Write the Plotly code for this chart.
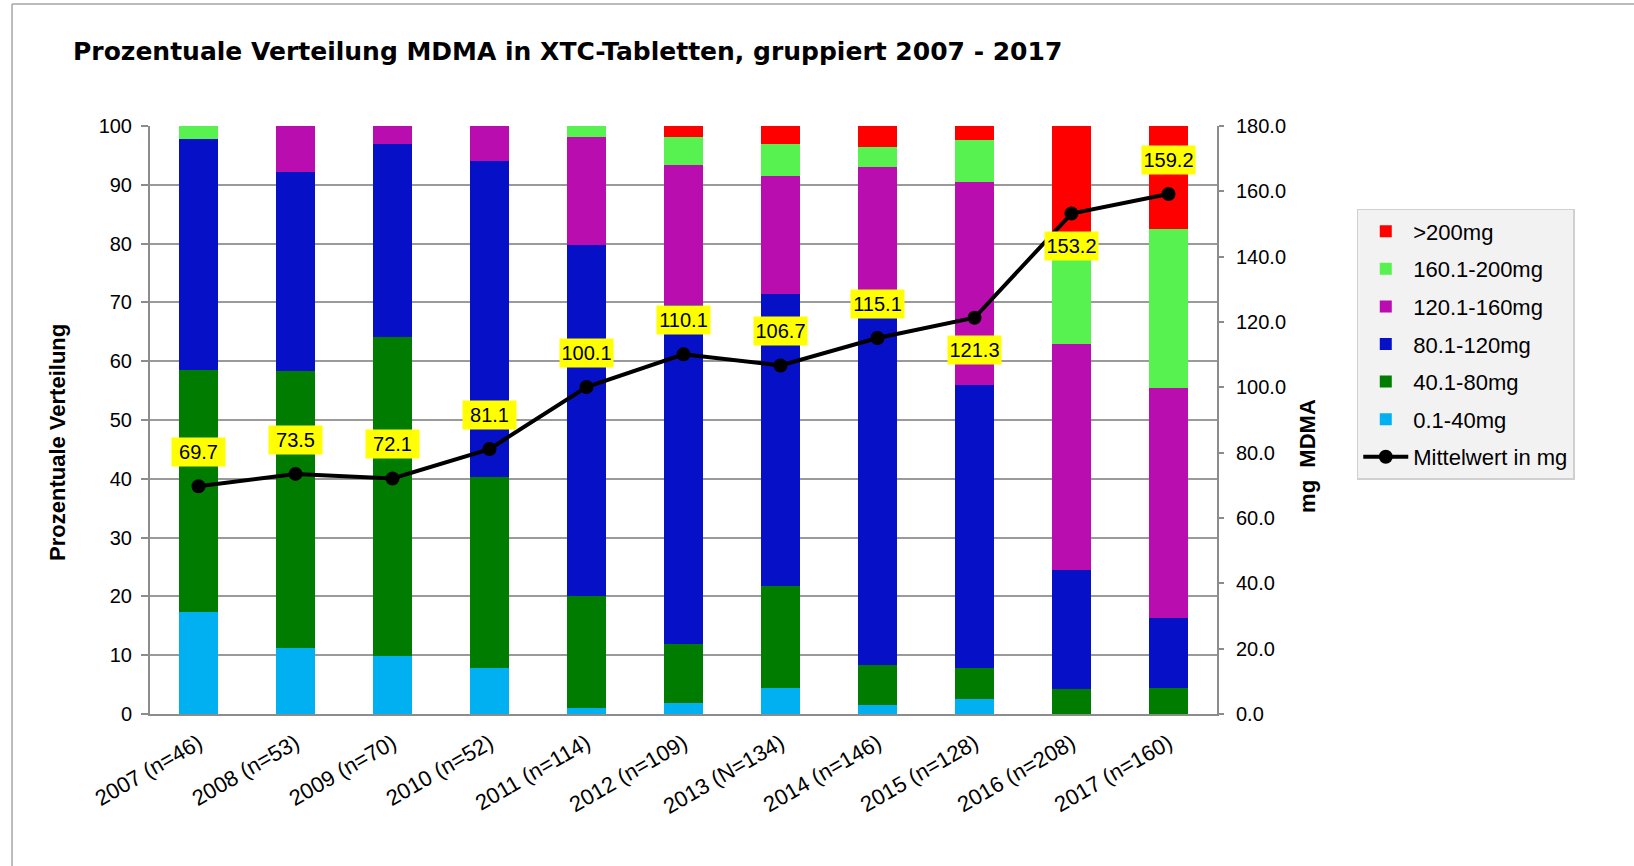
import plotly.graph_objects as go

categories = ["2007 (n=46)", "2008 (n=53)", "2009 (n=70)", "2010 (n=52)", "2011 (n=114)",
              "2012 (n=109)", "2013 (N=134)", "2014 (n=146)", "2015 (n=128)", "2016 (n=208)",
              "2017 (n=160)"]

s_0_40 = [17.4, 11.3, 9.9, 7.9, 1.0, 1.9, 4.5, 1.5, 2.5, 0.0, 0.0]
s_40_80 = [41.1, 47.1, 54.3, 32.4, 19.1, 10.0, 17.2, 6.9, 5.4, 4.3, 4.5]
s_80_120 = [39.3, 33.8, 32.7, 53.8, 59.6, 57.6, 49.8, 62.7, 48.1, 20.2, 11.8]
s_120_160 = [0.0, 7.8, 3.1, 5.9, 18.4, 23.9, 20.0, 22.0, 34.4, 38.4, 39.2]
s_160_200 = [2.2, 0.0, 0.0, 0.0, 1.9, 4.7, 5.4, 3.3, 7.2, 16.1, 26.9]
s_200 = [0.0, 0.0, 0.0, 0.0, 0.0, 1.9, 3.1, 3.6, 2.4, 21.0, 17.6]

mean_mg = [69.7, 73.5, 72.1, 81.1, 100.1, 110.1, 106.7, 115.1, 121.3, 153.2, 159.2]
label_below = [False, False, False, False, False, False, False, False, True, True, False]

series = [
    ("0.1-40mg", s_0_40, "#00b0f0", 6),
    ("40.1-80mg", s_40_80, "#007d00", 5),
    ("80.1-120mg", s_80_120, "#0610c6", 4),
    ("120.1-160mg", s_120_160, "#b90db0", 3),
    ("160.1-200mg", s_160_200, "#57f24f", 2),
    (">200mg", s_200, "#ff0000", 1),
]

FONT = "Liberation Sans, Arial, sans-serif"

fig = go.Figure()
for name, vals, col, rank in series:
    fig.add_trace(go.Bar(
        x=categories, y=vals, name=name, marker=dict(color=col, line=dict(width=0)),
        legendrank=rank, legendgroup=name,
    ))

fig.add_trace(go.Scatter(
    x=categories, y=mean_mg, name="Mittelwert in mg", yaxis="y2",
    mode="lines+markers", line=dict(color="black", width=4),
    marker=dict(color="black", size=14), legendrank=7, legendgroup="mean",
))

annotations = []
for c, v, below in zip(categories, mean_mg, label_below):
    annotations.append(dict(
        x=c, y=v, xref="x", yref="y2", text=f"{v:.1f}", showarrow=False,
        yshift=-32 if below else 34, bgcolor="#ffff00", width=51, height=26,
        font=dict(family=FONT, size=20, color="black"),
    ))

# axis titles
annotations.append(dict(
    x=-0.0862, y=0.461, xref="paper", yref="paper", text="<b>Prozentuale Verteilung</b>",
    textangle=-90, showarrow=False, xanchor="center", yanchor="middle",
    font=dict(family=FONT, size=22, color="black"),
))
annotations.append(dict(
    x=1.0853, y=0.439, xref="paper", yref="paper", text="<b>mg  MDMA</b>",
    textangle=-90, showarrow=False, xanchor="center", yanchor="middle",
    font=dict(family=FONT, size=22, color="black"),
))

shapes = [
    dict(type="line", xref="paper", yref="paper", x0=-0.1293, x1=1.40, y0=1.2075, y1=1.2075,
         line=dict(color="#a6a6a6", width=1.5)),
    dict(type="line", xref="paper", yref="paper", x0=-0.1293, x1=-0.1293, y0=1.2075, y1=-0.27,
         line=dict(color="#a6a6a6", width=1.5)),
]

fig.update_layout(
    width=1634, height=866,
    margin=dict(l=150, r=417, t=126, b=152),
    paper_bgcolor="white", plot_bgcolor="white",
    barmode="stack", bargap=0.595,
    font=dict(family=FONT, size=19, color="black"),
    title=dict(text="<b>Prozentuale Verteilung MDMA in XTC-Tabletten, gruppiert 2007 - 2017</b>",
               x=73 / 1634, xref="container", xanchor="left",
               y=1 - 51 / 866, yref="container", yanchor="middle",
               font=dict(family="DejaVu Sans, sans-serif", size=25, color="black")),
    xaxis=dict(type="category", range=[-0.5, len(categories) - 0.5], tickangle=-30,
               showline=True, linecolor="#8c8c8c", linewidth=2,
               ticks="", tickfont=dict(family=FONT, size=22), showgrid=False,
               ticklabelstandoff=6),
    yaxis=dict(range=[0, 100], dtick=10, showgrid=True, gridcolor="#9a9a9a", gridwidth=1.5,
               showline=True, linecolor="#8c8c8c", linewidth=2, ticks="outside", ticklen=7,
               tickcolor="#8c8c8c", tickwidth=1.5, tickfont=dict(family=FONT, size=20),
               zeroline=False, ticklabelstandoff=5),
    yaxis2=dict(range=[0, 180], dtick=20, tickformat=".1f", overlaying="y", side="right",
                showgrid=False, showline=True, linecolor="#8c8c8c", linewidth=2,
                ticks="outside", ticklen=5, tickcolor="#8c8c8c", tickwidth=1.5,
                tickfont=dict(family=FONT, size=20), zeroline=False, ticklabelstandoff=8),
    legend=dict(x=1.131, y=0.859, xanchor="left", yanchor="top", bgcolor="#f2f2f2",
                bordercolor="#d0d0d0", borderwidth=1.5, font=dict(family=FONT, size=22),
                tracegroupgap=6, itemwidth=45, traceorder="grouped"),
    annotations=annotations, shapes=shapes, showlegend=True,
)

fig.write_html("out.html", config={"displayModeBar": False},
               post_script="document.body.style.margin='0px';")
